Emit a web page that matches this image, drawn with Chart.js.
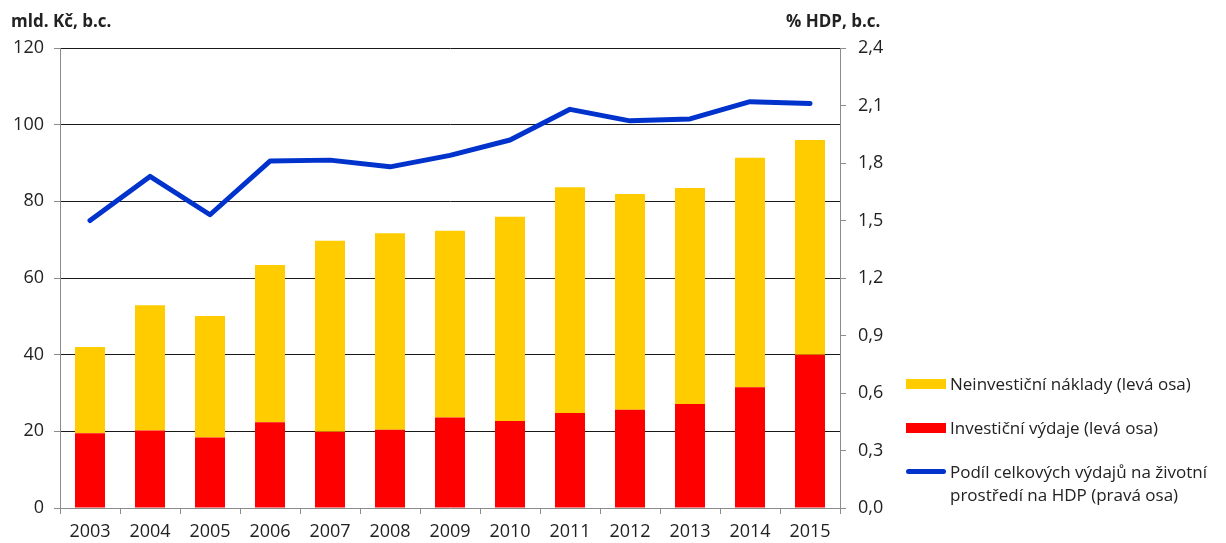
<!DOCTYPE html>
<html lang="cs">
<head>
<meta charset="utf-8">
<title>Výdaje na životní prostředí</title>
<script src="https://cdn.jsdelivr.net/npm/chart.js@4/dist/chart.umd.min.js"></script>
<style>
  body { margin: 0; background: #fff; }
  #wrap { position: relative; width: 1226px; height: 543px; font-family: 'Open Sans', sans-serif; color: #222; }
  .axis-title { position: absolute; top: 9px; font-weight: bold; font-size: 17px; line-height: 24px; }
  #legend { position: absolute; left: 906px; top: 372px; font-size: 17px; line-height: 23px; }
  .item { display: flex; align-items: flex-start; margin-bottom: 21px; }
  .swatch { width: 40px; margin-right: 4px; flex: none; }
</style>
</head>
<body>
<div id="wrap">
  <canvas id="envChart" width="1226" height="543"></canvas>
  <div class="axis-title" style="left:11px">mld. Kč, b.c.</div>
  <div class="axis-title" style="left:786px">% HDP, b.c.</div>
  <div id="legend"></div>
</div>
<script>
// Data
const years = ['2003', '2004', '2005', '2006', '2007', '2008', '2009', '2010', '2011', '2012', '2013', '2014', '2015'];
const investicni = [19.5, 20.2, 18.4, 22.4, 19.9, 20.4, 23.6, 22.7, 24.8, 25.6, 27.1, 31.5, 40.0];
const neinvesticni = [22.5, 32.7, 31.7, 41.0, 49.8, 51.3, 48.7, 53.3, 58.9, 56.3, 56.4, 59.9, 56.0];
const podilHdp = [1.50, 1.73, 1.53, 1.81, 1.815, 1.78, 1.84, 1.92, 2.08, 2.02, 2.03, 2.12, 2.11];

const tickFont = { family: 'Open Sans', size: 18 };
const tickColor = '#222';
const axisGray = '#8c8c8c';

const ctx = document.getElementById('envChart').getContext('2d');

const chart = new Chart(ctx, {
    type: 'bar',
    data: {
        labels: years,
        datasets: [
            {
                label: 'Investiční výdaje (levá osa)',
                data: investicni,
                backgroundColor: '#ff0000',
                yAxisID: 'yL',
                order: 1
            },
            {
                label: 'Neinvestiční náklady (levá osa)',
                data: neinvesticni,
                backgroundColor: '#ffcc00',
                yAxisID: 'yL',
                order: 2
            },
            {
                type: 'line',
                label: 'Podíl celkových výdajů na životní prostředí na HDP (pravá osa)',
                data: podilHdp,
                borderColor: '#0033cc',
                backgroundColor: '#0033cc',
                borderWidth: 5,
                borderCapStyle: 'round',
                borderJoinStyle: 'round',
                pointRadius: 0,
                tension: 0,
                yAxisID: 'yR',
                order: 0
            }
        ]
    },
    options: {
        responsive: false,
        animation: false,
        layout: { padding: { top: 48, right: 336, bottom: 0, left: 0 } },
        datasets: {
            bar: { categoryPercentage: 1, barPercentage: 0.5 }
        },
        plugins: {
            legend: { display: false },
            tooltip: { enabled: false }
        },
        scales: {
            x: {
                stacked: true,
                offset: true,
                grid: {
                    offset: true,
                    drawOnChartArea: false,
                    tickLength: 6,
                    tickColor: axisGray
                },
                border: { color: axisGray },
                ticks: { font: tickFont, color: tickColor, padding: 7, maxRotation: 0 },
                afterFit: scale => { scale.height = 35; }
            },
            yL: {
                type: 'linear',
                position: 'left',
                stacked: true,
                min: 0,
                max: 120,
                ticks: { stepSize: 20, font: tickFont, color: tickColor, padding: 10 },
                grid: {
                    color: c => (c.tick && c.tick.value === 0) ? 'rgba(0,0,0,0)' : '#1a1a1a',
                    tickColor: axisGray,
                    tickLength: 6
                },
                border: { color: axisGray },
                afterFit: scale => { scale.width = 60; }
            },
            yR: {
                type: 'linear',
                position: 'right',
                min: 0,
                max: 2.4,
                ticks: {
                    stepSize: 0.3,
                    font: tickFont,
                    color: tickColor,
                    padding: 12,
                    callback: v => v.toFixed(1).replace('.', ',')
                },
                grid: { drawOnChartArea: false, tickColor: axisGray, tickLength: 6 },
                border: { color: axisGray },
                afterFit: scale => { scale.width = 50; }
            }
        }
    }
});

// HTML legend in the reference order: yellow, red, blue
function buildLegend(chart) {
    const legend = document.getElementById('legend');
    const ds = chart.data.datasets;
    [1, 0, 2].forEach(i => {
        const item = document.createElement('div');
        item.className = 'item';
        const sw = document.createElement('div');
        sw.className = 'swatch';
        if (ds[i].type === 'line') {
            sw.style.height = '5px';
            sw.style.borderRadius = '3px';
            sw.style.marginTop = '9px';
            sw.style.background = ds[i].borderColor;
        } else {
            sw.style.height = '10px';
            sw.style.marginTop = '7px';
            sw.style.background = ds[i].backgroundColor;
        }
        const txt = document.createElement('div');
        txt.textContent = ds[i].label;
        if (ds[i].type === 'line') txt.style.width = '272px';
        item.appendChild(sw);
        item.appendChild(txt);
        legend.appendChild(item);
    });
}
buildLegend(chart);
</script>
</body>
</html>
